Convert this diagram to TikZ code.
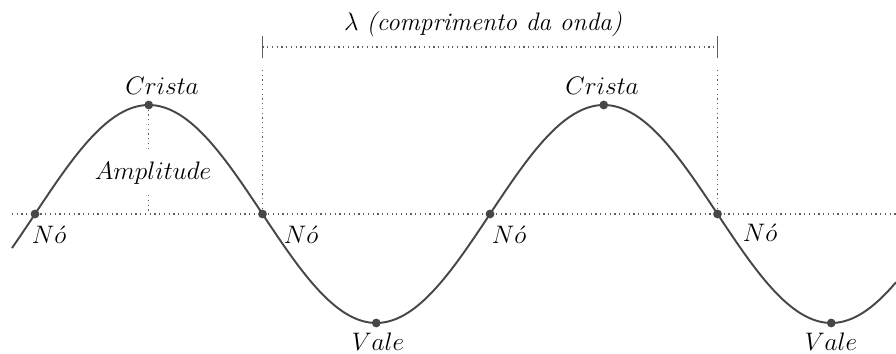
\documentclass[tikz,border=0pt]{standalone}
\usepackage{amsmath,amssymb}
\usetikzlibrary{positioning,calc}

\definecolor{wavegray}{HTML}{474747}
\definecolor{guidegray}{HTML}{5E5E5E}

\tikzset{
  wave/.style={wavegray,line width=1.1pt},
  guide/.style={guidegray,dotted,line width=0.7pt},
  wdot/.style={circle,fill=wavegray,inner sep=0pt,minimum size=5pt},
  lbl/.style={font=\Large,inner sep=1pt},
  tick/.style={guidegray,line width=1pt}
}

\begin{document}
\begin{tikzpicture}[x=0.02cm,y=-0.02cm]
\useasboundingbox (0,0) rectangle (896,354);

% axis
\coordinate (axL) at (12,214);
\coordinate (axR) at (896,214);
\draw[guide] (axL) -- (axR);

% wave (period 455)
\draw[wave,domain=12:896,samples=240,smooth] plot (\x,{214-109*sin(0.791209*(\x-35))});

% points on the wave
\node[wdot] (no1) at (35,214) {};
\node[wdot] (no2) at (262.5,214) {};
\node[wdot] (no3) at (490,214) {};
\node[wdot] (no4) at (717.5,214) {};
\node[wdot] (crista1) at (148.75,105) {};
\node[wdot] (crista2) at (603.75,105) {};
\node[wdot] (vale1) at (376.25,323) {};
\node[wdot] (vale2) at (831.25,323) {};

% labels
\node[lbl] (lcrista1) at (162,86) {$Crista$};
\node[lbl] (lcrista2) at (602,86) {$Crista$};
\node[lbl] (lvale1) at (378,342) {$Vale$};
\node[lbl] (lvale2) at (831,342) {$Vale$};
\node[lbl] (lno1) at (49,235) {$N\acute{o}$};
\node[lbl] (lno2) at (301,235) {$N\acute{o}$};
\node[lbl] (lno3) at (509,235) {$N\acute{o}$};
\node[lbl] (lno4) at (760,233) {$N\acute{o}$};

% amplitude
\coordinate (ampB) at (148.75,214);
\node[lbl,inner sep=6pt] (amp) at (153,173) {$Amplitude$};
\draw[guide] (crista1) -- (crista1 |- amp.north);
\draw[guide] (ampB |- amp.south) -- (ampB);

% wavelength
\coordinate (wlA) at (262.5,47);
\coordinate (wlB) at (717.5,47);
\draw[guide] (wlA) -- (wlB);
\draw[tick] ($(wlA)+(0,-11)$) -- ($(wlA)+(0,11)$);
\draw[tick] ($(wlB)+(0,-11)$) -- ($(wlB)+(0,11)$);
\draw[guide] ($(wlA)+(0,23)$) -- (no2);
\draw[guide] ($(wlB)+(0,23)$) -- (no4);
\node[lbl] (lambda) at (483,24) {$\lambda$ \textit{(comprimento da onda)}};
\end{tikzpicture}
\end{document}
